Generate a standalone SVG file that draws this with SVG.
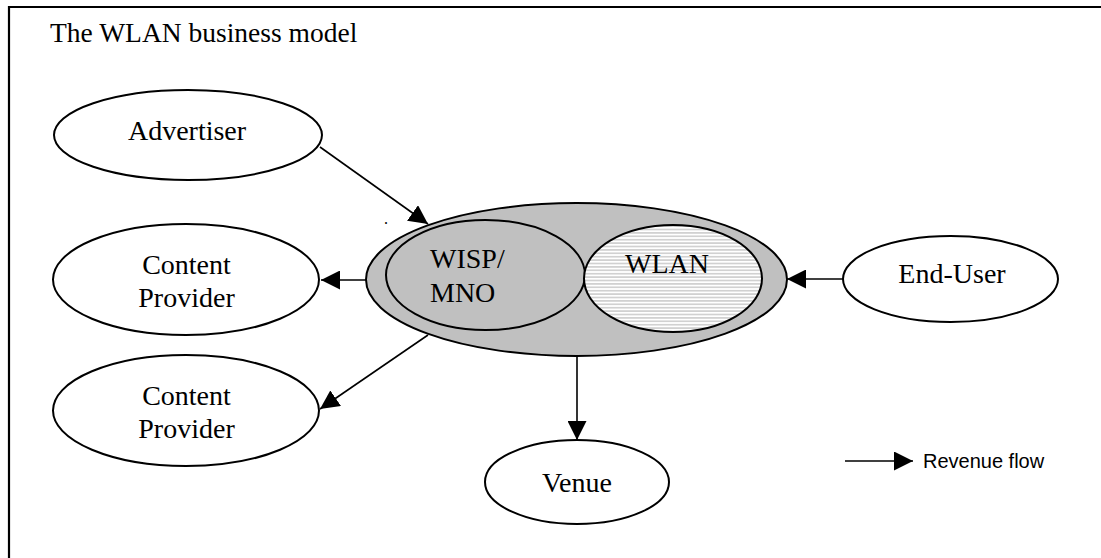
<svg xmlns="http://www.w3.org/2000/svg" width="1101" height="558" viewBox="0 0 1101 558">
<style>
.lbl{font-family:"Liberation Serif","Times New Roman",serif;font-size:28px;fill:#000;text-anchor:middle}
.node{fill:#fff;stroke:#000;stroke-width:2}
.conn{stroke:#000;stroke-width:1.6;fill:none;marker-end:url(#ah)}
</style>
<defs>
<marker id="ah" viewBox="0 0 19 19" refX="19" refY="9.5" markerWidth="19" markerHeight="19" markerUnits="userSpaceOnUse" orient="auto">
<path d="M0,0 L19,9.5 L0,19 z" fill="#000"/>
</marker>
<pattern id="hatch" width="6" height="3.4" patternUnits="userSpaceOnUse">
<rect width="6" height="3.4" fill="#fff"/>
<line x1="0" y1="1.7" x2="6" y2="1.7" stroke="#a8a8a8" stroke-width="0.9"/>
</pattern>
</defs>
<rect width="1101" height="558" fill="#fff"/>
<path d="M9,560 V7 H1103" fill="none" stroke="#000" stroke-width="2.2"/>
<text x="50" y="42" font-family="Liberation Serif,Times New Roman,serif" font-size="27.5" fill="#000">The WLAN business model</text>
<text x="384" y="224" font-family="Liberation Serif,serif" font-size="16" fill="#000">.</text>

<g id="connectors">
<line class="conn" x1="320" y1="147" x2="428" y2="224"/>
<line class="conn" x1="366" y1="280" x2="321" y2="280"/>
<line class="conn" x1="428" y1="335" x2="320" y2="409"/>
<line class="conn" x1="577" y1="356" x2="577" y2="440"/>
<line class="conn" x1="843" y1="279" x2="787" y2="279"/>
</g>

<g id="advertiser">
<ellipse class="node" cx="188" cy="135" rx="134" ry="45"/>
<text class="lbl" x="187" y="140">Advertiser</text>
</g>
<g id="content-provider-1">
<ellipse class="node" cx="186" cy="279.5" rx="133" ry="55.5"/>
<text class="lbl" x="186.5" y="274">Content</text>
<text class="lbl" x="186.5" y="307">Provider</text>
</g>
<g id="content-provider-2">
<ellipse class="node" cx="186" cy="410.5" rx="133" ry="55.5"/>
<text class="lbl" x="186.5" y="405">Content</text>
<text class="lbl" x="186.5" y="438">Provider</text>
</g>
<g id="operator">
<ellipse cx="576.5" cy="279.5" rx="210.5" ry="76.5" fill="#c0c0c0" stroke="#000" stroke-width="2"/>
<g id="wisp-mno">
<ellipse cx="485.5" cy="275" rx="99.5" ry="55" fill="#c0c0c0" stroke="#000" stroke-width="2"/>
<text class="lbl" x="430" y="268" style="text-anchor:start">WISP/</text>
<text class="lbl" x="430" y="302" style="text-anchor:start">MNO</text>
</g>
<g id="wlan">
<ellipse cx="673" cy="278.5" rx="89" ry="53.5" fill="url(#hatch)" stroke="#000" stroke-width="2"/>
<text class="lbl" x="667" y="273">WLAN</text>
</g>
</g>
<g id="end-user">
<ellipse class="node" cx="950.5" cy="279" rx="107.5" ry="43"/>
<text class="lbl" x="952" y="283">End-User</text>
</g>
<g id="venue">
<ellipse class="node" cx="577" cy="482" rx="92" ry="42"/>
<text class="lbl" x="577" y="492">Venue</text>
</g>
<g id="legend">
<line class="conn" x1="845" y1="461" x2="913" y2="461"/>
<text x="923" y="468" font-family="Liberation Sans,Arial,sans-serif" font-size="20" fill="#000">Revenue flow</text>
</g>
</svg>
